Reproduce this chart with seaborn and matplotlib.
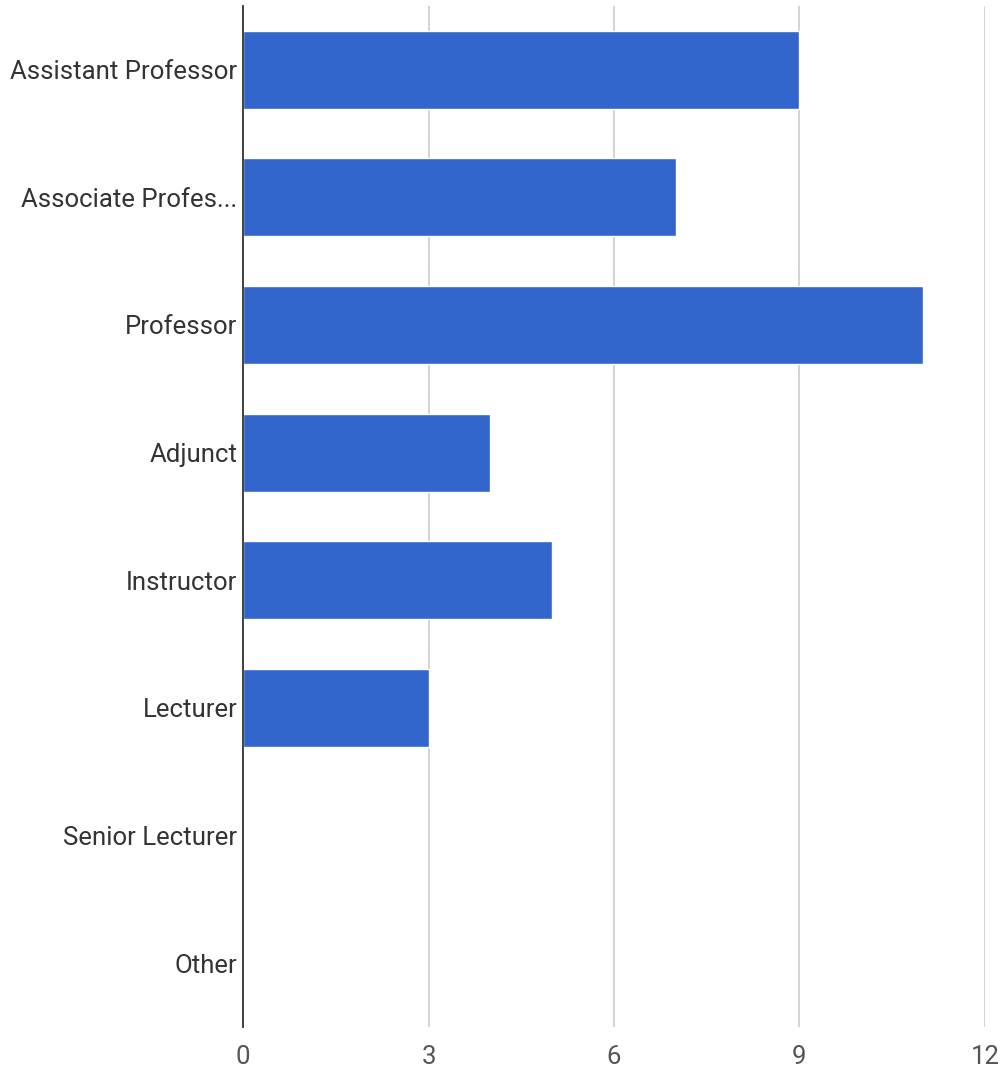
import matplotlib
matplotlib.use("Agg")
import matplotlib.pyplot as plt
import seaborn as sns
import pandas as pd

# Survey responses by academic rank
ranks = ["Assistant Professor", "Associate Profes...", "Professor", "Adjunct",
         "Instructor", "Lecturer", "Senior Lecturer", "Other"]
counts = [9, 7, 11, 4, 5, 3, 0, 0]
x_ticks = [0, 3, 6, 9, 12]

df = pd.DataFrame({"rank": ranks, "count": counts})

sns.set_theme(style="white")
plt.rcParams["font.family"] = ["Roboto", "DejaVu Sans"]

fig = plt.figure(figsize=(10.03, 10.72), dpi=100)
ax = fig.add_axes([0.2423, 0.042, 0.7397, 0.9525])

sns.barplot(data=df, x="count", y="rank", order=ranks, color="#3366CC",
            saturation=1, width=0.61, ax=ax, zorder=3)

ax.set_xlim(0, 12)
ax.set_ylim(len(ranks) - 0.5, -0.5)
ax.set_xticks(x_ticks)
ax.set_xticklabels([str(t) for t in x_ticks])
ax.xaxis.grid(True, color="#cccccc", linewidth=1.2, zorder=0)
ax.set_axisbelow(True)

for side in ["top", "right", "bottom"]:
    ax.spines[side].set_visible(False)
ax.spines["left"].set_color("#333333")
ax.spines["left"].set_linewidth(1.3)
ax.spines["left"].set_zorder(5)

ax.tick_params(axis="y", length=0, pad=4, labelsize=18.5, labelcolor="#333333")
ax.tick_params(axis="x", length=0, pad=13, labelsize=18.5, labelcolor="#555555")
ax.set_xlabel("")
ax.set_ylabel("")

fig.savefig("out.png", dpi=100, facecolor="white")
